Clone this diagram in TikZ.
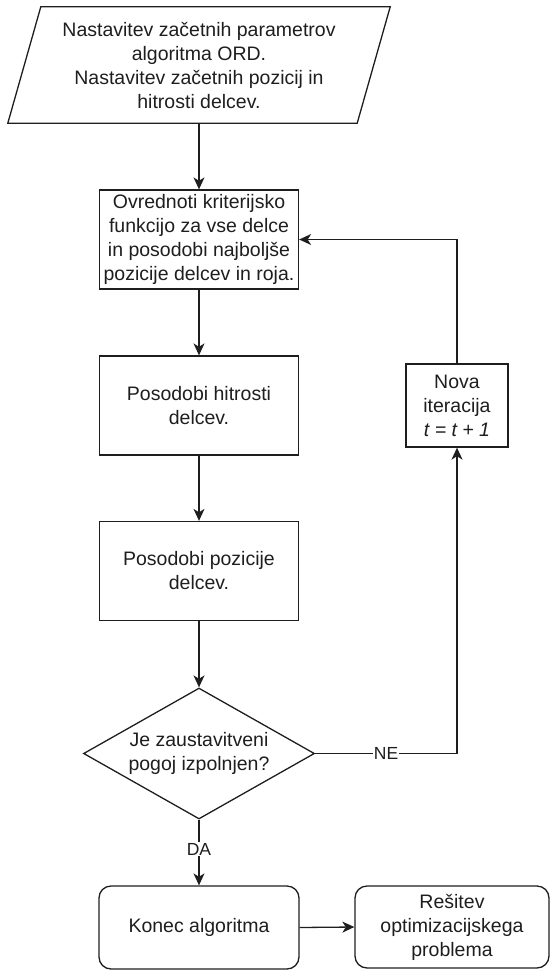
\documentclass[tikz,border=0pt]{standalone}
\usepackage{fontspec}
\setmainfont{Liberation Sans}
\usetikzlibrary{shapes.geometric,arrows.meta,calc}
\definecolor{ink}{HTML}{1E1E1E}
\begin{document}
\begin{tikzpicture}[x=1pt,y=-1pt,
  txt/.style={font=\fontsize{19.5}{24}\selectfont, text=ink, align=center, inner sep=0pt},
  outline/.style={draw=ink, line width=1.3pt},
  procbox/.style={txt, outline, minimum width=199pt, minimum height=99pt},
  endbox/.style={txt, outline, rounded corners=12pt, minimum height=83pt},
  decision/.style={txt, outline, shape=diamond, aspect=1.76, minimum width=231pt, minimum height=131pt},
  flow/.style={draw=ink, line width=1.3pt, -{Stealth[length=12pt,width=11pt,inset=3.5pt]}},
  lbl/.style={font=\fontsize{17.5}{20}\selectfont, text=ink, fill=white, inner sep=1pt}
]
\useasboundingbox (0,0) rectangle (552,970);

% input: start parameters (parallelogram)
\node[txt, minimum width=382pt, minimum height=116pt] (start) at (199,65)
  {Nastavitev začetnih parametrov\\algoritma ORD.\\Nastavitev začetnih pozicij in\\hitrosti delcev.};
\draw[outline] (start.south west) -- ($(start.north west)+(33,0)$) -- (start.north east)
  -- ($(start.south east)+(-33,0)$) -- cycle;

% process steps
\node[procbox] (eval) at (199,239.5)
  {Ovrednoti kriterijsko\\funkcijo za vse delce\\in posodobi najboljše\\pozicije delcev in roja.};
\node[procbox] (vel) at (199,405.5) {Posodobi hitrosti\\delcev.};
\node[procbox] (pos) at (199,571) {Posodobi pozicije\\delcev.};
\node[txt, outline, minimum width=102pt, minimum height=83pt] (iter) at (457,405.5)
  {Nova\\iteracija\\\textit{t = t + 1}};

% stopping condition
\node[decision] (stop) at (199,753.5) {Je zaustavitveni\\pogoj izpolnjen?};

% termination
\node[endbox, minimum width=200pt] (finish) at (199,927.5) {Konec algoritma};
\node[endbox, minimum width=194pt, minimum height=82pt] (result) at (452,927)
  {Rešitev\\optimizacijskega\\problema};

% connectors
\draw[flow] (start) -- (eval);
\draw[flow] (eval) -- (vel);
\draw[flow] (vel) -- (pos);
\draw[flow] (pos) -- (stop);
\draw[flow] (stop.east) -| node[lbl, pos=0.25] {NE} (iter.south);
\draw[flow] (iter.north) |- (eval.east);
\draw[flow] (stop.south) -- node[lbl, pos=0.45] {DA} (finish.north);
\draw[flow] (finish.east) -- (result.west);
\end{tikzpicture}
\end{document}
